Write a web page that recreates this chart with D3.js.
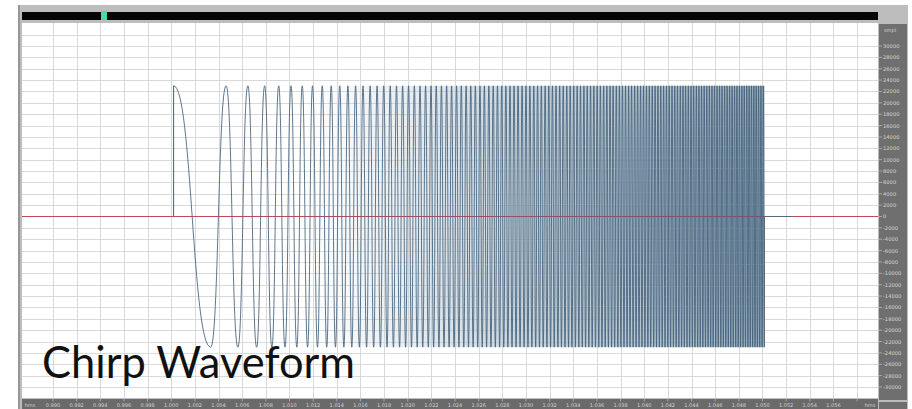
<!DOCTYPE html>
<html>
<head>
<meta charset="utf-8">
<script src="https://cdn.jsdelivr.net/npm/d3@7"></script>
<style>
  body { margin: 0; background: #fff; }
</style>
</head>
<body>
<script>
// time ticks on the bottom ruler (seconds)
const timeTicks = [0.990, 0.992, 0.994, 0.996, 0.998, 1.000, 1.002, 1.004, 1.006, 1.008,
  1.010, 1.012, 1.014, 1.016, 1.018, 1.020, 1.022, 1.024, 1.026, 1.028, 1.030, 1.032,
  1.034, 1.036, 1.038, 1.040, 1.042, 1.044, 1.046, 1.048, 1.050, 1.052, 1.054, 1.056]
const timeGrid = timeTicks.concat([1.058])

// sample ticks on the right ruler
const sampleTicks = [30000, 28000, 26000, 24000, 22000, 20000, 18000, 16000, 14000, 12000,
  10000, 8000, 6000, 4000, 2000, 0, -2000, -4000, -6000, -8000, -10000, -12000, -14000,
  -16000, -18000, -20000, -22000, -24000, -26000, -28000, -30000]
const sampleGrid = sampleTicks.concat([32000])

// chirp: start / end of the burst (s), peak amplitude (smpl)
const chirpStart = 1.0002
const tailEnd = 1.0526
const chirpAmplitude = 23000

// times (ms after start) of successive peaks and troughs
const chirpExtremaMs = [0, 3.14, 4.44, 5.44, 6.28, 7.02, 7.70, 8.31, 8.89, 9.42, 9.93, 10.42,
  10.88, 11.33, 11.75, 12.17, 12.57, 12.95, 13.33, 13.69, 14.05, 14.40, 14.74, 15.07, 15.39,
  15.71, 16.02, 16.32, 16.62, 16.92, 17.21, 17.49, 17.77, 18.05, 18.32, 18.59, 18.85, 19.11,
  19.37, 19.62, 19.87, 20.12, 20.36, 20.60, 20.84, 21.07, 21.31, 21.54, 21.77, 21.99, 22.21,
  22.44, 22.65, 22.87, 23.09, 23.30, 23.51, 23.72, 23.93, 24.13, 24.33, 24.54, 24.74, 24.94,
  25.13, 25.33, 25.52, 25.72, 25.91, 26.10, 26.28, 26.47, 26.66, 26.84, 27.03, 27.21, 27.39,
  27.57, 27.75, 27.92, 28.10, 28.27, 28.45, 28.62, 28.79, 28.96, 29.13, 29.30, 29.47, 29.64,
  29.80, 29.97, 30.13, 30.30, 30.46, 30.62, 30.78, 30.94, 31.10, 31.26, 31.42, 31.57, 31.73,
  31.88, 32.04, 32.19, 32.34, 32.50, 32.65, 32.80, 32.95, 33.10, 33.25, 33.40, 33.54, 33.69,
  33.84, 33.98, 34.13, 34.27, 34.41, 34.56, 34.70, 34.84, 34.98, 35.12, 35.26, 35.40, 35.54,
  35.68, 35.82, 35.96, 36.09, 36.23, 36.37, 36.50, 36.64, 36.77, 36.91, 37.04, 37.17, 37.30,
  37.44, 37.57, 37.70, 37.83, 37.96, 38.09, 38.22, 38.35, 38.48, 38.60, 38.73, 38.86, 38.99,
  39.11, 39.24, 39.36, 39.49, 39.61, 39.74, 39.86, 39.99, 40.11, 40.23, 40.35, 40.48, 40.60,
  40.72, 40.84, 40.96, 41.08, 41.20, 41.32, 41.44, 41.56, 41.68, 41.80, 41.91, 42.03, 42.15,
  42.27, 42.38, 42.50, 42.61, 42.73, 42.85, 42.96, 43.08, 43.19, 43.30, 43.42, 43.53, 43.64,
  43.76, 43.87, 43.98, 44.09, 44.21, 44.32, 44.43, 44.54, 44.65, 44.76, 44.87, 44.98, 45.09,
  45.20, 45.31, 45.42, 45.53, 45.63, 45.74, 45.85, 45.96, 46.06, 46.17, 46.28, 46.38, 46.49,
  46.60, 46.70, 46.81, 46.91, 47.02, 47.12, 47.23, 47.33, 47.44, 47.54, 47.64, 47.75, 47.85,
  47.95, 48.06, 48.16, 48.26, 48.36, 48.47, 48.57, 48.67, 48.77, 48.87, 48.97, 49.07, 49.17,
  49.27, 49.37, 49.47, 49.57, 49.67, 49.77, 49.87, 49.97]

const W = 912, H = 409
const plot = { left: 22, right: 878, top: 23, bottom: 398 }

const svg = d3.select("body").append("svg").attr("width", W).attr("height", H)

const x = d3.scaleLinear().domain([0.98738, 1.05977]).range([plot.left, plot.right])
const y = d3.scaleLinear().domain([-31940, 34050]).range([plot.bottom, plot.top])

// window frame
svg.append("rect").attr("x", 18).attr("y", 5).attr("width", 890).attr("height", 404).attr("fill", "#bdbdbd")
svg.append("rect").attr("x", 18).attr("y", 5).attr("width", 2).attr("height", 404).attr("fill", "#969696")
svg.append("rect").attr("x", plot.left).attr("y", 12).attr("width", plot.right - plot.left).attr("height", 8).attr("fill", "#050505")
svg.append("rect").attr("x", 101).attr("y", 11).attr("width", 6).attr("height", 9).attr("fill", "#3fe0a3")

// plot area
svg.append("rect").attr("x", plot.left).attr("y", plot.top)
  .attr("width", plot.right - plot.left).attr("height", plot.bottom - plot.top).attr("fill", "#fff")

const grid = svg.append("g")
grid.selectAll("line.v").data(timeGrid).enter().append("line")
  .attr("x1", d => Math.round(x(d)) + 0.5).attr("x2", d => Math.round(x(d)) + 0.5)
  .attr("y1", plot.top).attr("y2", plot.bottom)
  .attr("stroke", "#d9d9d9").attr("stroke-width", 1)
grid.selectAll("line.h").data(sampleGrid.filter(d => d !== 0)).enter().append("line")
  .attr("x1", plot.left).attr("x2", plot.right)
  .attr("y1", d => Math.round(y(d)) + 0.5).attr("y2", d => Math.round(y(d)) + 0.5)
  .attr("stroke", "#d9d9d9").attr("stroke-width", 1)

// light shading that builds up as the trace gets dense
const defs = svg.append("defs")
const shadeFrom = chirpStart + 0.011
const lastT = chirpStart + chirpExtremaMs[chirpExtremaMs.length - 1] / 1000
const grad = defs.append("linearGradient").attr("id", "dense")
  .attr("gradientUnits", "userSpaceOnUse")
  .attr("x1", x(shadeFrom)).attr("x2", x(lastT)).attr("y1", 0).attr("y2", 0)
grad.append("stop").attr("offset", 0).attr("stop-color", "#c4d2dc").attr("stop-opacity", 0)
grad.append("stop").attr("offset", 0.45).attr("stop-color", "#b4c5d1").attr("stop-opacity", 0.7)
grad.append("stop").attr("offset", 1).attr("stop-color", "#93a9b9").attr("stop-opacity", 0.9)
svg.append("rect")
  .attr("x", x(shadeFrom)).attr("width", x(lastT) - x(shadeFrom))
  .attr("y", y(chirpAmplitude)).attr("height", y(-chirpAmplitude) - y(chirpAmplitude))
  .attr("fill", "url(#dense)")

// zero line
svg.append("line").attr("x1", plot.left).attr("x2", plot.right)
  .attr("y1", y(0)).attr("y2", y(0)).attr("stroke", "#c2475a").attr("stroke-width", 1)

// waveform: each half cycle runs from one extremum to the next
const pts = chirpExtremaMs.map((ms, i) => ({ t: chirpStart + ms / 1000, v: i % 2 ? -chirpAmplitude : chirpAmplitude }))
const wave = d3.line().x(d => x(d.t)).y(d => y(d.v)).curve(d3.curveBumpX)
svg.append("path").datum(pts).attr("d", wave)
  .attr("fill", "none").attr("stroke", "#42607a").attr("stroke-width", 0.85)

const straight = d3.line().x(d => x(d.t)).y(d => y(d.v))
const last = pts[pts.length - 1]
svg.append("path").datum([{ t: chirpStart, v: 0 }, { t: chirpStart, v: chirpAmplitude }]).attr("d", straight)
  .attr("fill", "none").attr("stroke", "#42607a").attr("stroke-width", 1)
svg.append("path").datum([last, { t: last.t, v: 0 }, { t: tailEnd, v: 0 }]).attr("d", straight)
  .attr("fill", "none").attr("stroke", "#5a6a78").attr("stroke-width", 1)

// right ruler
const rr = svg.append("g")
rr.append("rect").attr("x", 879).attr("y", 24).attr("width", 28).attr("height", 376).attr("fill", "#6f6f6f")
rr.append("rect").attr("x", 879).attr("y", 402).attr("width", 28).attr("height", 7).attr("fill", "#6f6f6f")
rr.append("text").attr("x", 884).attr("y", 32).text("smpl")
  .attr("font-family", "DejaVu Sans").attr("font-size", 5).attr("fill", "#d4d4d4")
rr.selectAll("line").data(sampleTicks).enter().append("line")
  .attr("x1", 879).attr("x2", 882).attr("y1", d => y(d)).attr("y2", d => y(d))
  .attr("stroke", "#cfcfcf").attr("stroke-width", 0.6)
rr.selectAll("text.s").data(sampleTicks).enter().append("text")
  .attr("x", 883).attr("y", d => y(d) + 2)
  .attr("font-family", "DejaVu Sans").attr("font-size", 5.2).attr("fill", "#d6d6d6")
  .text(d => d)

// bottom ruler
const br = svg.append("g")
br.append("rect").attr("x", plot.left).attr("y", 399).attr("width", plot.right - plot.left).attr("height", 10).attr("fill", "#6a6a6a")
br.selectAll("line").data(timeGrid).enter().append("line")
  .attr("x1", d => x(d)).attr("x2", d => x(d)).attr("y1", 399).attr("y2", 401.5)
  .attr("stroke", "#cfcfcf").attr("stroke-width", 0.6)
br.selectAll("text").data(timeTicks).enter().append("text")
  .attr("x", d => x(d)).attr("y", 406.5).attr("text-anchor", "middle")
  .attr("font-family", "DejaVu Sans").attr("font-size", 5).attr("fill", "#d4d4d4")
  .text(d => d3.format(".3f")(d))
br.append("text").attr("x", 30).attr("y", 406.5).attr("text-anchor", "middle")
  .attr("font-family", "DejaVu Sans").attr("font-size", 5).attr("fill", "#d4d4d4").text("hms")
br.append("text").attr("x", 870).attr("y", 406.5).attr("text-anchor", "middle")
  .attr("font-family", "DejaVu Sans").attr("font-size", 5).attr("fill", "#d4d4d4").text("hms")

// caption
svg.append("text").attr("x", 42).attr("y", 378)
  .attr("font-family", "Lato, 'Open Sans', sans-serif").attr("font-size", 44).attr("fill", "#111")
  .attr("textLength", 313).attr("lengthAdjust", "spacingAndGlyphs")
  .text("Chirp Waveform")
</script>
</body>
</html>
